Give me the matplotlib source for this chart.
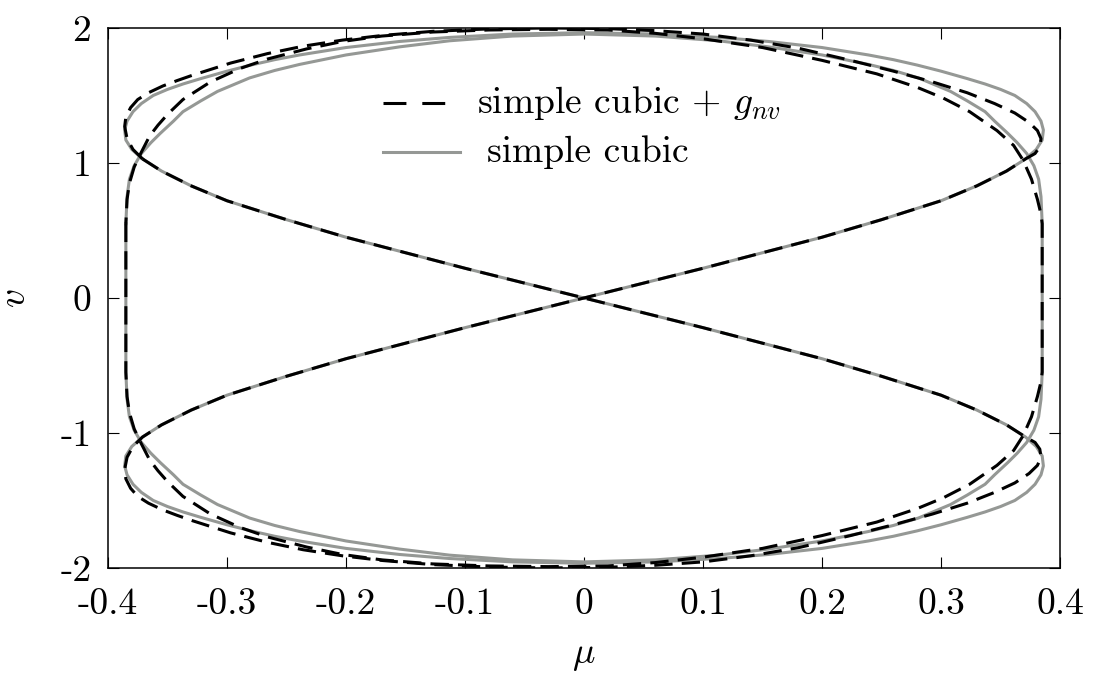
import matplotlib
matplotlib.use("Agg")
import matplotlib.pyplot as plt

plt.rcParams["font.family"] = "cmr10"
plt.rcParams["mathtext.fontset"] = "cm"
plt.rcParams["axes.unicode_minus"] = False

# ---------------- data ----------------
xticks = [-0.4, -0.3, -0.2, -0.1, 0.0, 0.1, 0.2, 0.3, 0.4]
xtick_labels = ["-0.4", "-0.3", "-0.2", "-0.1", "0", "0.1", "0.2", "0.3", "0.4"]
yticks = [-2, -1, 0, 1, 2]
ytick_labels = ["-2", "-1", "0", "1", "2"]

# diagonal branches (shared by both models)
mu_diag_b = [0.371, 0.355, 0.33, 0.30, 0.25, 0.20, 0.15, 0.10, 0.05, 0.0,
             -0.05, -0.10, -0.15, -0.20, -0.25, -0.30, -0.33, -0.355, -0.371]
v_diag_b = [1.03, 0.94, 0.83, 0.72, 0.58, 0.45, 0.335, 0.22, 0.11, 0.0,
            -0.11, -0.22, -0.335, -0.45, -0.58, -0.72, -0.83, -0.94, -1.03]
mu_diag_a = [0.371, 0.355, 0.33, 0.30, 0.25, 0.20, 0.15, 0.10, 0.05, 0.0,
             -0.05, -0.10, -0.15, -0.20, -0.25, -0.30, -0.33, -0.355, -0.371]
v_diag_a = [-1.03, -0.94, -0.83, -0.72, -0.58, -0.45, -0.335, -0.22, -0.11, 0.0,
            0.11, 0.22, 0.335, 0.45, 0.58, 0.72, 0.83, 0.94, 1.03]

# simple cubic: outer arcs (left crossing -> right crossing)
mu_grey_outer = [-0.371, -0.380, -0.385, -0.386, -0.384, -0.379, -0.372, -0.362, -0.350,
                 -0.337, -0.322, -0.300, -0.280, -0.260, -0.239, -0.200, -0.155, -0.113,
                 -0.060, 0.0, 0.060, 0.113, 0.155, 0.200, 0.239, 0.260, 0.280, 0.300,
                 0.322, 0.337, 0.350, 0.362, 0.372, 0.379, 0.384, 0.386, 0.385, 0.380, 0.371]
v_grey_top_outer = [1.03, 1.10, 1.17, 1.244, 1.31, 1.38, 1.44, 1.50, 1.545,
                    1.585, 1.625, 1.68, 1.725, 1.765, 1.80, 1.855, 1.90, 1.93,
                    1.955, 1.965, 1.955, 1.93, 1.90, 1.855, 1.80, 1.765, 1.725, 1.68,
                    1.625, 1.585, 1.545, 1.50, 1.44, 1.38, 1.31, 1.244, 1.17, 1.10, 1.03]
v_grey_bot_outer = [-1.03, -1.10, -1.17, -1.244, -1.31, -1.38, -1.44, -1.50, -1.545,
                    -1.585, -1.625, -1.68, -1.725, -1.765, -1.80, -1.855, -1.90, -1.93,
                    -1.955, -1.965, -1.955, -1.93, -1.90, -1.855, -1.80, -1.765, -1.725, -1.68,
                    -1.625, -1.585, -1.545, -1.50, -1.44, -1.38, -1.31, -1.244, -1.17, -1.10, -1.03]

# simple cubic: inner arcs (left edge -> right edge)
mu_grey_inner = [-0.385, -0.384, -0.382, -0.378, -0.372, -0.364, -0.356, -0.345, -0.337,
                 -0.322, -0.308, -0.281, -0.260, -0.239, -0.200, -0.155, -0.113, -0.060,
                 0.0, 0.060, 0.113, 0.155, 0.200, 0.239, 0.260, 0.281, 0.308, 0.322,
                 0.337, 0.345, 0.356, 0.364, 0.372, 0.378, 0.382, 0.384, 0.385]
v_grey_top_inner = [0.55, 0.75, 0.88, 0.98, 1.07, 1.15, 1.22, 1.31, 1.38,
                    1.46, 1.53, 1.63, 1.685, 1.73, 1.80, 1.86, 1.905, 1.94,
                    1.955, 1.94, 1.905, 1.86, 1.80, 1.73, 1.685, 1.63, 1.53, 1.46,
                    1.38, 1.31, 1.22, 1.15, 1.07, 0.98, 0.88, 0.75, 0.55]
v_grey_bot_inner = [-0.55, -0.75, -0.88, -0.98, -1.07, -1.15, -1.22, -1.31, -1.38,
                    -1.46, -1.53, -1.63, -1.685, -1.73, -1.80, -1.86, -1.905, -1.94,
                    -1.955, -1.94, -1.905, -1.86, -1.80, -1.73, -1.685, -1.63, -1.53, -1.46,
                    -1.38, -1.31, -1.22, -1.15, -1.07, -0.98, -0.88, -0.75, -0.55]

# simple cubic + g_nv: outer arcs (left crossing -> right crossing)
mu_black_outer = [-0.371, -0.379, -0.384, -0.386, -0.385, -0.381, -0.375, -0.366, -0.354,
                  -0.342, -0.329, -0.297, -0.266, -0.236, -0.203, -0.169, -0.127, -0.080,
                  -0.030, 0.020, 0.060, 0.100, 0.140, 0.180, 0.224, 0.260, 0.293, 0.322,
                  0.345, 0.362, 0.374, 0.381, 0.384, 0.383, 0.379, 0.371]
v_black_top_outer = [1.03, 1.10, 1.18, 1.27, 1.34, 1.41, 1.47, 1.52, 1.57,
                     1.61, 1.65, 1.74, 1.81, 1.865, 1.91, 1.945, 1.975, 1.993,
                     2.0, 1.995, 1.98, 1.955, 1.91, 1.85, 1.76, 1.68, 1.60, 1.52,
                     1.44, 1.37, 1.30, 1.24, 1.18, 1.12, 1.07, 1.03]
v_black_bot_outer = [-1.03, -1.10, -1.18, -1.27, -1.34, -1.41, -1.47, -1.52, -1.57,
                     -1.61, -1.65, -1.74, -1.81, -1.865, -1.91, -1.945, -1.975, -1.993,
                     -2.0, -1.995, -1.98, -1.955, -1.91, -1.85, -1.76, -1.68, -1.60, -1.52,
                     -1.44, -1.37, -1.30, -1.24, -1.18, -1.12, -1.07, -1.03]

# simple cubic + g_nv: inner arcs (left edge -> right edge)
mu_black_inner = [-0.385, -0.384, -0.382, -0.378, -0.372, -0.365, -0.358, -0.350, -0.337,
                  -0.314, -0.289, -0.266, -0.233, -0.203, -0.170, -0.127, -0.080, -0.030,
                  0.020, 0.060, 0.100, 0.150, 0.200, 0.246, 0.280, 0.302, 0.324, 0.347,
                  0.361, 0.369, 0.376, 0.381, 0.384, 0.385]
v_black_top_inner = [0.55, 0.73, 0.85, 0.97, 1.08, 1.20, 1.28, 1.36, 1.47,
                     1.60, 1.70, 1.77, 1.845, 1.90, 1.94, 1.97, 1.985, 1.99,
                     1.985, 1.96, 1.92, 1.855, 1.76, 1.66, 1.56, 1.48, 1.38, 1.24,
                     1.13, 1.02, 0.88, 0.73, 0.62, 0.55]
v_black_bot_inner = [-0.55, -0.73, -0.85, -0.97, -1.08, -1.20, -1.28, -1.36, -1.47,
                     -1.60, -1.70, -1.77, -1.845, -1.90, -1.94, -1.97, -1.985, -1.99,
                     -1.985, -1.96, -1.92, -1.855, -1.76, -1.66, -1.56, -1.48, -1.38, -1.24,
                     -1.13, -1.02, -0.88, -0.73, -0.62, -0.55]

# vertical edges
mu_edge_left = [-0.385, -0.385]
mu_edge_right = [0.385, 0.385]
v_edge_down = [0.55, -0.55]
v_edge_up = [-0.55, 0.55]

label_dashed = r"simple cubic $+$ $g_{nv}$"
label_solid = "simple cubic"

GREY = "#959895"
LW = 2.2
DASH = (6.0, 3.0)


def cross_loop(mu_out, v_top, v_bot):
    """outer arcs joined through the two diagonals into one closed path"""
    mus = list(mu_out) + list(mu_diag_b) + list(mu_out) + list(mu_diag_a)
    vs = list(v_top) + list(v_diag_b) + list(v_bot) + list(v_diag_a)
    return mus, vs


def edge_loop(mu_in, v_top, v_bot):
    """inner arcs joined through the vertical edges into one closed path"""
    mus = list(mu_edge_left) + list(mu_in) + list(mu_edge_right) + list(mu_in[::-1])
    vs = list(v_edge_down) + list(v_bot) + list(v_edge_up) + list(v_top[::-1])
    return mus, vs


fig = plt.figure(figsize=(11.01, 6.82), dpi=100)
ax = fig.add_axes([0.0981, 0.1672, 0.8647, 0.7918])

for mus, vs in (cross_loop(mu_grey_outer, v_grey_top_outer, v_grey_bot_outer),
                edge_loop(mu_grey_inner, v_grey_top_inner, v_grey_bot_inner)):
    ax.plot(mus, vs, color=GREY, lw=LW, solid_joinstyle="round", zorder=2)

for mus, vs in (cross_loop(mu_black_outer, v_black_top_outer, v_black_bot_outer),
                edge_loop(mu_black_inner, v_black_top_inner, v_black_bot_inner)):
    ax.plot(mus, vs, color="black", lw=LW, dashes=DASH, zorder=3)

ax.set_xlim(-0.4, 0.4)
ax.set_ylim(-2, 2)
ax.set_xticks(xticks)
ax.set_xticklabels(xtick_labels)
ax.set_yticks(yticks)
ax.set_yticklabels(ytick_labels)
ax.tick_params(direction="in", length=8, width=0.8, top=True, right=True,
               labelsize=27, pad=14)
ax.tick_params(axis="y", pad=12)
for sp in ax.spines.values():
    sp.set_linewidth(1.1)

ax.set_xlabel(r"$\mu$", fontsize=27, labelpad=14)
ax.set_ylabel(r"$v$", fontsize=27)
ax.yaxis.set_label_coords(-0.080, 0.5)

# key
ax.plot([0.289, 0.370], [0.861, 0.861], transform=ax.transAxes, color="black",
        lw=LW, dashes=(7.5, 5.2))
ax.text(0.388, 0.861, label_dashed, transform=ax.transAxes, va="center",
        ha="left", fontsize=27)
ax.plot([0.289, 0.370], [0.770, 0.770], transform=ax.transAxes, color=GREY, lw=LW)
ax.text(0.398, 0.770, label_solid, transform=ax.transAxes, va="center",
        ha="left", fontsize=27)

fig.savefig("out.png", dpi=100)
